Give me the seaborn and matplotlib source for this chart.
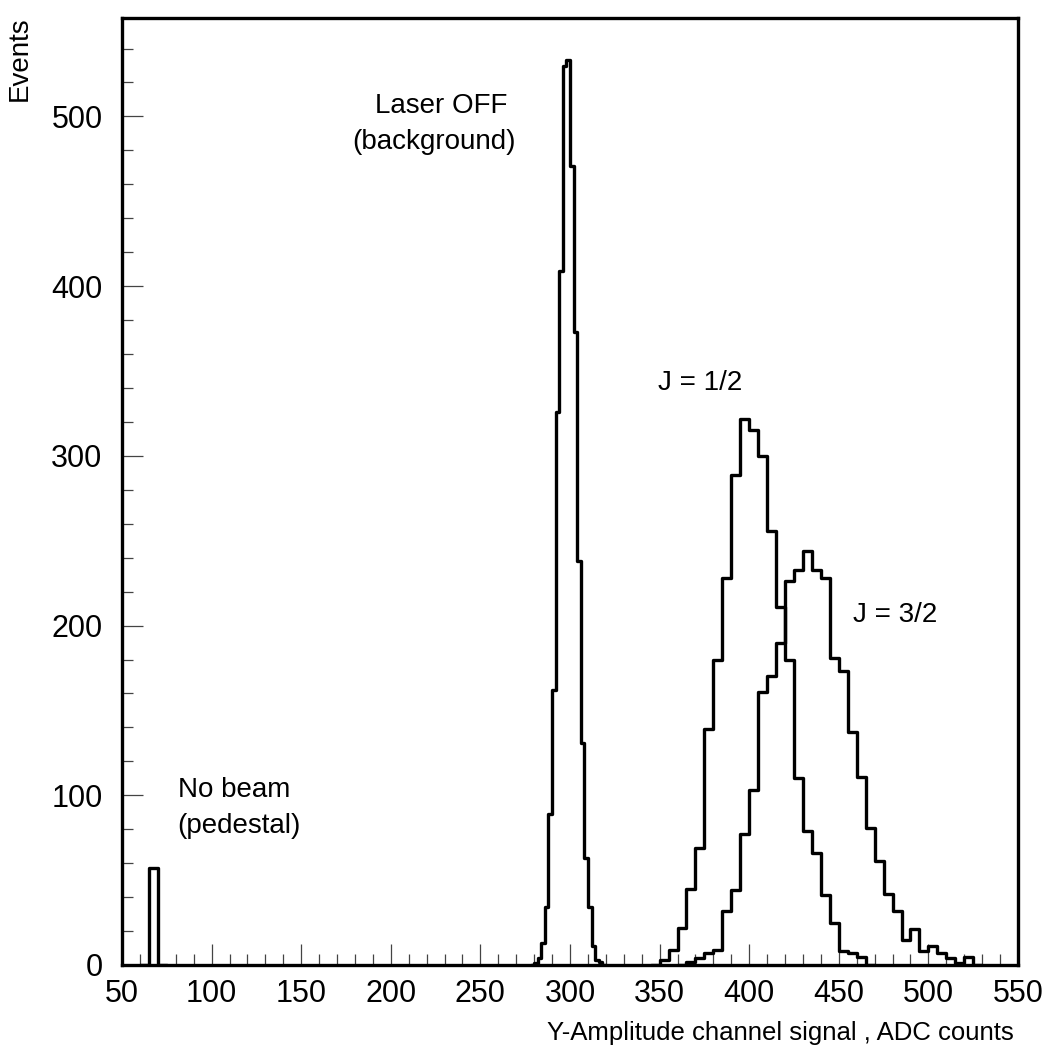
import numpy as np
import pandas as pd
import matplotlib
matplotlib.use("Agg")
import matplotlib.pyplot as plt
import seaborn as sns

# bin contents (first bin edge, bin width, counts)
pedestal_start, pedestal_width = 65, 5
pedestal_counts = [57]

laser_start, laser_width = 280, 2
laser_counts = [1, 4, 13, 34, 89, 162, 326, 409, 530, 533, 471, 373, 238, 131,
                63, 34, 11, 3, 2]

j12_start, j12_width = 350, 5
j12_counts = [3, 9, 22, 45, 69, 139, 180, 228, 289, 322, 315, 300, 256, 211, 180,
              110, 79, 66, 41, 25, 8, 7, 5]

j32_start, j32_width = 365, 5
j32_counts = [2, 4, 7, 9, 32, 44, 77, 103, 161, 170, 190, 226, 233, 244, 233, 228,
              181, 173, 137, 111, 81, 61, 42, 32, 15, 21, 8, 11, 7, 4, 1, 5]

x_ticks = [50, 100, 150, 200, 250, 300, 350, 400, 450, 500, 550]
y_ticks = [0, 100, 200, 300, 400, 500]

# text, x, y, horizontal alignment
labels = [("Laser OFF", 265, 506, "right"), ("(background)", 269.5, 485, "right"),
          ("No beam", 81, 103, "left"), ("(pedestal)", 81, 82, "left"),
          ("J = 1/2", 349, 343, "left"), ("J = 3/2", 458, 206, "left")]

sns.set_style("ticks")
plt.rcParams["font.family"] = ["Liberation Sans", "DejaVu Sans"]
plt.rcParams["text.color"] = "black"


def hist_frame(start, width, counts):
    # pad with an empty bin on each side so the outline drops to zero
    vals = [0] + list(counts) + [0]
    edges = [start - width + width * i for i in range(len(vals) + 1)]
    centers = [(a + b) / 2 for a, b in zip(edges[:-1], edges[1:])]
    return pd.DataFrame({"x": centers, "w": vals}), edges


fig = plt.figure(figsize=(10.46, 10.64), dpi=100)
ax = fig.add_axes([122 / 1046, 99 / 1064, 896 / 1046, 947 / 1064])

for start, width, counts in [(pedestal_start, pedestal_width, pedestal_counts),
                             (laser_start, laser_width, laser_counts),
                             (j12_start, j12_width, j12_counts),
                             (j32_start, j32_width, j32_counts)]:
    df, edges = hist_frame(start, width, counts)
    sns.histplot(data=df, x="x", weights="w", bins=edges, element="step",
                 fill=False, color="black", linewidth=2.4, ax=ax)

ax.set_xlim(50, 550)
ax.set_ylim(0, 558)
ax.set_xticks(x_ticks)
ax.set_yticks(y_ticks)
ax.set_xticks(np.arange(50, 551, 10), minor=True)
ax.set_yticks(np.arange(0, 558, 20), minor=True)
ax.tick_params(axis="both", which="both", direction="in", labelsize=22,
               color="#444444", labelcolor="black", width=0.9,
               right=False, top=False)
ax.tick_params(axis="both", which="major", length=15)
ax.tick_params(axis="both", which="minor", length=8)
ax.tick_params(axis="x", pad=10)
ax.tick_params(axis="y", pad=14)
for s in ax.spines.values():
    s.set_linewidth(2.4)
    s.set_color("black")

ax.set_xlabel("")
ax.set_ylabel("")
fig.text(1014 / 1046, 1 - 1033 / 1064, "Y-Amplitude channel signal , ADC counts",
         ha="right", va="center", fontsize=18.5)
fig.text(20 / 1046, 1 - 16 / 1064, "Events", rotation=90, ha="center", va="top",
         fontsize=20, family=["Liberation Sans Narrow", "Liberation Sans"])

for txt, x, y, ha in labels:
    ax.text(x, y, txt, ha=ha, va="center", fontsize=20)

fig.savefig("out.png", dpi=100)
